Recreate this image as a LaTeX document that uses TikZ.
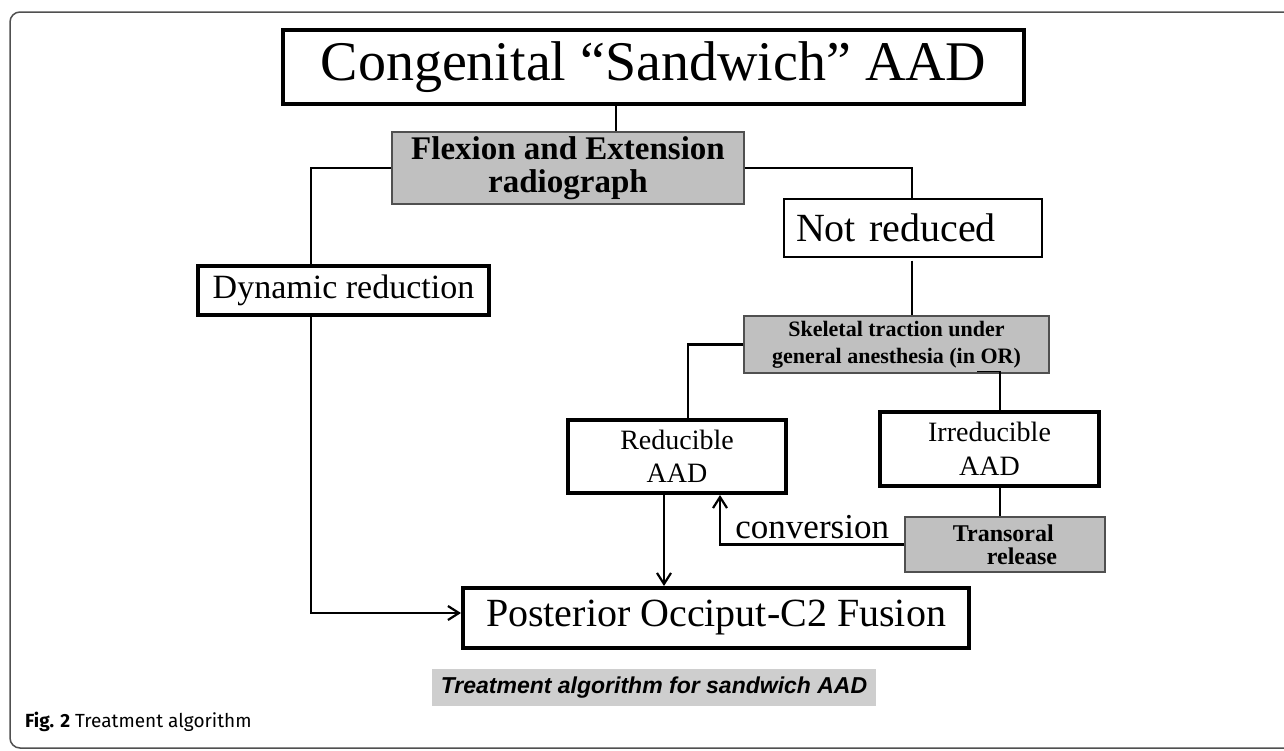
\documentclass[tikz,border=0pt]{standalone}
\usepackage{fontspec}
\setmainfont{Liberation Serif}
\newfontfamily\capsans{Liberation Sans}
\newfontfamily\figsans{Fira Sans}
\usetikzlibrary{arrows.meta}
\definecolor{boxgray}{RGB}{192,192,192}
\definecolor{capgray}{RGB}{206,206,206}
\definecolor{edgegray}{RGB}{80,80,80}
\tikzset{
  thickbox/.style={draw, line width=4pt, inner sep=0pt, align=center},
  thinbox/.style={draw, line width=1.2pt, inner sep=0pt},
  graybox/.style={draw=edgegray, fill=boxgray, line width=1.2pt, inner sep=0pt, align=center},
  conn/.style={line width=2.4pt},
  arr/.style={conn, -{Straight Barb[length=11pt,width=14pt,line width=2.2pt]}},
}
\begin{document}
\begin{tikzpicture}[x=1pt,y=-1pt]
      \useasboundingbox (0,0) rectangle (1284,750);
      \clip (0,0) rectangle (1284,750);
      \draw[edgegray, line width=1.5pt, rounded corners=10pt] (10,12) rectangle (1310,748);
      % boxes
      \node (title) at (653.5,67) [thickbox, minimum width=741pt, minimum height=74pt, font=\fontsize{56}{60}\selectfont] {Congenital “Sandwich” AAD};
      \node (flex) at (568,168) [graybox, minimum width=352pt, minimum height=72pt, font=\bfseries\fontsize{33}{33}\selectfont] {Flexion and Extension\\radiograph};
      \node (dyn) at (343.5,290.5) [thickbox, minimum width=291pt, minimum height=49pt, font=\fontsize{34}{36}\selectfont] {Dynamic reduction};
      \node (notred) at (913,228) [thinbox, align=left, text width=234pt, inner xsep=12pt, minimum height=58pt, font=\fontsize{40}{42}\selectfont] {Not reduced};
      \node (skel) at (896.5,344.5) [graybox, minimum width=305pt, minimum height=57pt, font=\bfseries\fontsize{22}{27}\selectfont] {Skeletal traction under\\general anesthesia (in OR)};
      \node (red) at (677,456.5) [thickbox, minimum width=218pt, minimum height=73pt, font=\fontsize{28}{33}\selectfont] {Reducible\\AAD};
      \node (irred) at (989.5,449) [thickbox, minimum width=219pt, minimum height=74pt, font=\fontsize{28}{34}\selectfont] {Irreducible\\AAD};
      \node (trans) at (1005,544.5) [graybox, align=left, minimum width=200pt, minimum height=55pt, font=\bfseries\fontsize{24}{23}\selectfont] {Transoral\\\hspace*{34pt}release};
      \node (post) at (716,618) [thickbox, minimum width=506pt, minimum height=60pt, font=\fontsize{40}{42}\selectfont] {Posterior Occiput-C2 Fusion};
      \node (caption) at (654,687.5) [fill=capgray, inner sep=0pt, minimum width=444pt, minimum height=37pt, font=\capsans\bfseries\itshape\fontsize{23}{25}\selectfont] {Treatment algorithm for sandwich AAD};
      \node (fig) at (25,727) [anchor=base west, inner sep=0pt, font=\figsans\fontsize{19}{21}\selectfont] {\textbf{Fig. 2} Treatment algorithm};
      % connectors
      \draw[conn] ([xshift=-37.5pt]title.south) -- ([xshift=48pt]flex.north);
      \draw[conn] (flex.west) -| ([xshift=-32.5pt]dyn.north);
      \draw[conn] (flex.east) -| ([xshift=-1pt]notred.north);
      \draw[arr] ([xshift=-32.5pt]dyn.south) |- ([yshift=5pt]post.west);
      \draw[conn] ([xshift=-1pt,yshift=-3pt]notred.south) -- ([xshift=15.5pt]skel.north);
      \draw[conn] (skel.west) -| ([xshift=11pt]red.north);
      \draw[line width=1.5pt] ([xshift=80.5pt,yshift=2pt]skel.south) -| ([xshift=10.5pt]irred.north);
      \draw[conn] ([xshift=10.5pt]irred.south) -- ([xshift=-5pt]trans.north);
      \draw[arr] (trans.west) -| ([xshift=43pt]red.south) node (conv) [pos=0.25, above=1pt, font=\fontsize{35}{36}\selectfont] {conversion};
      \draw[arr] ([xshift=-13pt]red.south) -- ([xshift=-52pt]post.north);
\end{tikzpicture}
\end{document}
